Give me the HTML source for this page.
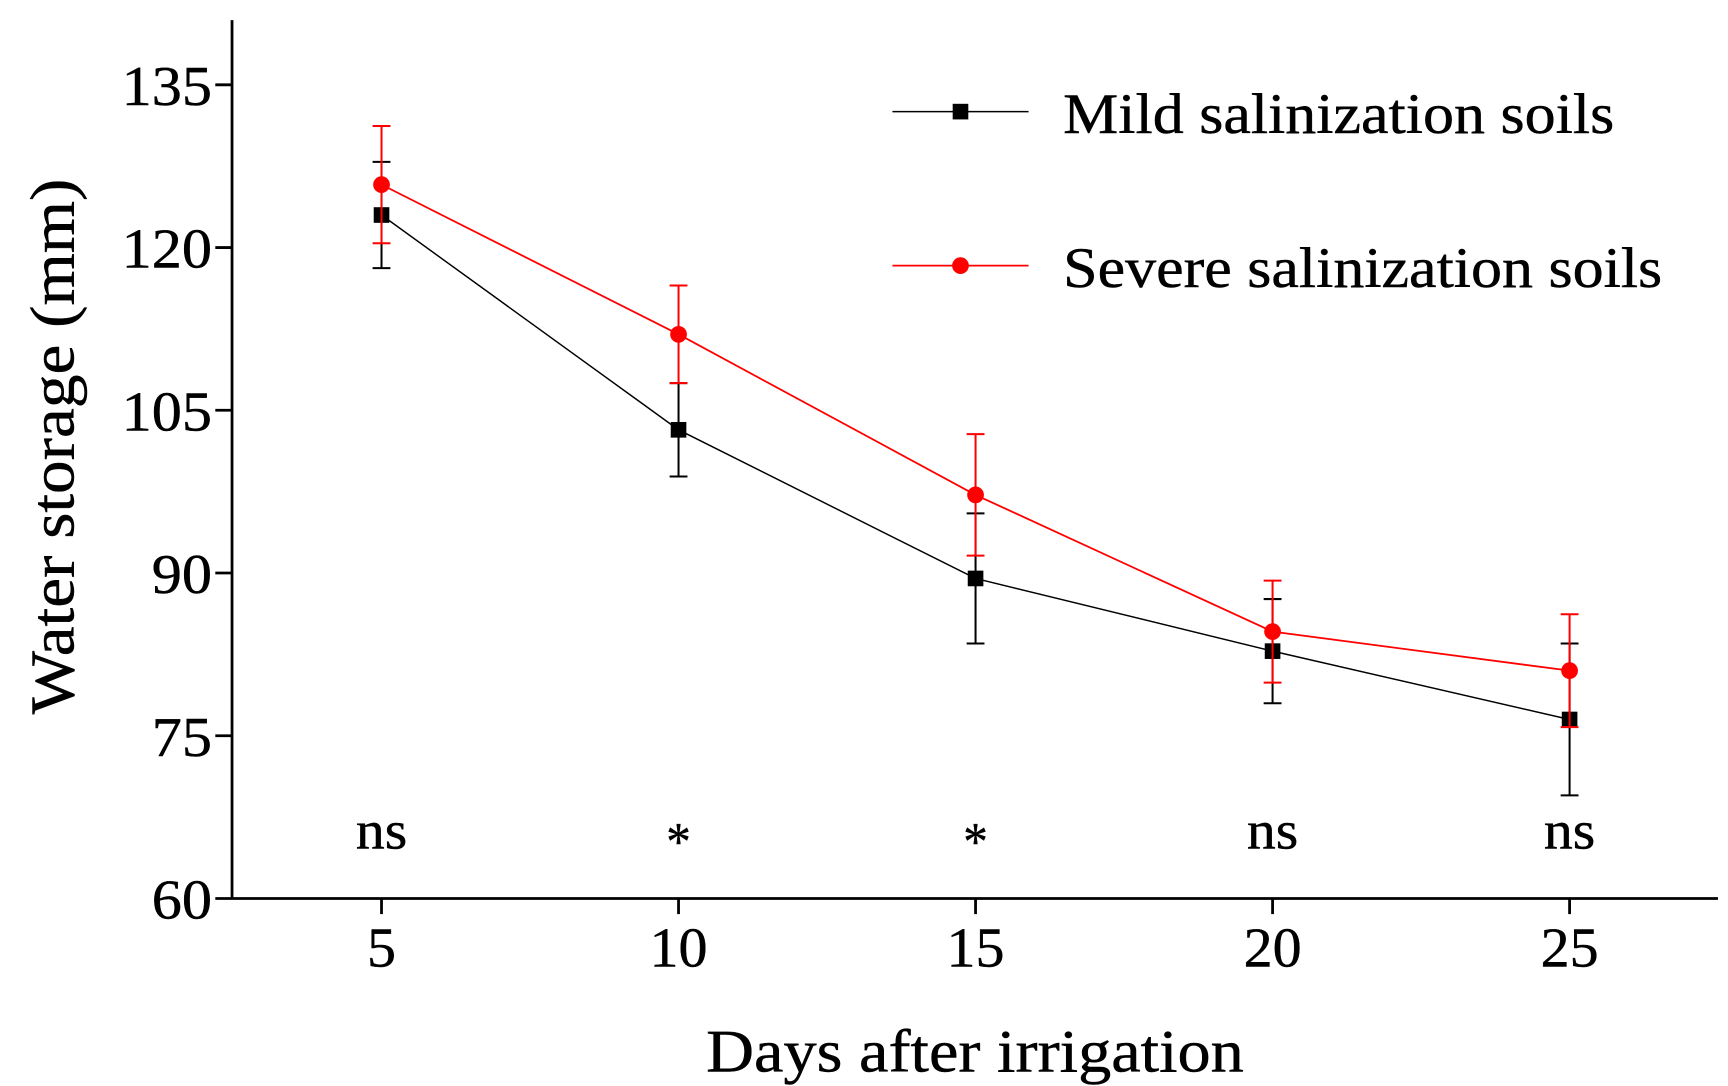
<!DOCTYPE html>
<html><head><meta charset="utf-8"><style>
html,body{margin:0;padding:0;background:#fff;}
svg{display:block;}
text{font-family:"Liberation Serif",serif;fill:#000;stroke:#000;stroke-width:0.4;}
</style></head><body>
<svg id="chart" width="1728" height="1086" viewBox="0 0 1549 973" preserveAspectRatio="none" xmlns="http://www.w3.org/2000/svg">
<g id="axes"></g>
<g id="series"></g>
<g id="legend">
  <line x1="800" y1="100" x2="922" y2="100" stroke="#000" stroke-width="1.3"/>
  <rect x="854" y="93" width="14" height="14" fill="#000"/>
  <text x="953" y="119" font-size="51" textLength="494" lengthAdjust="spacingAndGlyphs">Mild salinization soils</text>
  <line x1="800" y1="238" x2="922" y2="238" stroke="#f00" stroke-width="1.6"/>
  <circle cx="861" cy="238" r="7.5" fill="#f00"/>
  <text x="953" y="257" font-size="51" textLength="537" lengthAdjust="spacingAndGlyphs">Severe salinization soils</text>
</g>
<text x="633" y="960" font-size="54" textLength="482" lengthAdjust="spacingAndGlyphs">Days after irrigation</text>
<text transform="translate(66,640) rotate(-90)" font-size="56" textLength="480" lengthAdjust="spacingAndGlyphs">Water storage (mm)</text>
</svg>
<script>
const categories = [5, 10, 15, 20, 25];
const mildValues = [123, 103.2, 89.5, 82.8, 76.5];
const mildErrors = [4.9, 4.3, 6.0, 4.8, 7.0];
const severeValues = [125.8, 112, 97.2, 84.6, 81];
const severeErrors = [5.4, 4.5, 5.6, 4.7, 5.2];
const yTicks = [60, 75, 90, 105, 120, 135];
const sigLabels = ["ns", "*", "*", "ns", "ns"];

const NS = "http://www.w3.org/2000/svg";
const X0 = 208, X1 = 1540, Y0 = 805, YTOP = 18;
function xs(v){ return 342 + (v - 5) * (1407 - 342) / 20; }
function ys(v){ return 805 - (v - 60) * (805 - 76) / 75; }
function mk(tag, attrs, parent){
  const el = document.createElementNS(NS, tag);
  for (const k in attrs) el.setAttribute(k, attrs[k]);
  parent.appendChild(el);
  return el;
}
const axes = document.getElementById('axes');
let el = mk('line', {x1:X0, y1:YTOP, x2:X0, y2:Y0, stroke:'#000', 'stroke-width':2.5}, axes);


el = mk('line', {x1:X0, y1:Y0, x2:X1, y2:Y0, stroke:'#000', 'stroke-width':2.5}, axes);


yTicks.forEach(t => {
  mk('line', {x1:X0-15, y1:ys(t), x2:X0, y2:ys(t), stroke:'#000', 'stroke-width':2.5}, axes);
  const w = String(t).length * 27;
  const tx = mk('text', {x:X0-18-w, y:ys(t)+18, 'font-size':50, textLength:w, lengthAdjust:'spacingAndGlyphs'}, axes);
  tx.textContent = t;
  
  
});
categories.forEach((c, i) => {
  mk('line', {x1:xs(c), y1:Y0, x2:xs(c), y2:Y0+14, stroke:'#000', 'stroke-width':2.5}, axes);
  const w = String(c).length * 26;
  const tx = mk('text', {x:xs(c)-w/2, y:866, 'font-size':50, textLength:w, lengthAdjust:'spacingAndGlyphs'}, axes);
  tx.textContent = c;
  
  
  const sw = sigLabels[i] === '*' ? 22 : 46;
  const s = mk('text', {x:xs(c)-sw/2, y: sigLabels[i] === '*' ? 770 : 760, 'font-size':48, textLength:sw, lengthAdjust:'spacingAndGlyphs'}, axes);
  s.textContent = sigLabels[i];
  
  
});
const series = document.getElementById('series');
function drawSeries(vals, errs, color, sw, shape, name){
  const g = mk('g', {}, series);
  
  
  mk('polyline', {points: categories.map((c,i)=>xs(c)+','+ys(vals[i])).join(' '), fill:'none', stroke:color, 'stroke-width':sw}, g);
  categories.forEach((c,i)=>{
    const x = xs(c), yt = ys(vals[i]+errs[i]), yb = ys(vals[i]-errs[i]);
    const eb = mk('path', {d:`M${x},${yt}V${yb}M${x-8},${yt}H${x+8}M${x-8},${yb}H${x+8}`, stroke:color, 'stroke-width':1.8, fill:'none'}, g);
    
    
    let m;
    if (shape === 'square') m = mk('rect', {x:x-7, y:ys(vals[i])-7, width:14, height:14, fill:color}, g);
    else m = mk('circle', {cx:x, cy:ys(vals[i]), r:7.5, fill:color}, g);
    
    
  });
}
drawSeries(mildValues, mildErrors, '#000', 1.3, 'square', 'mild-series');
drawSeries(severeValues, severeErrors, '#f00', 1.6, 'circle', 'severe-series');
</script>
</body></html>
